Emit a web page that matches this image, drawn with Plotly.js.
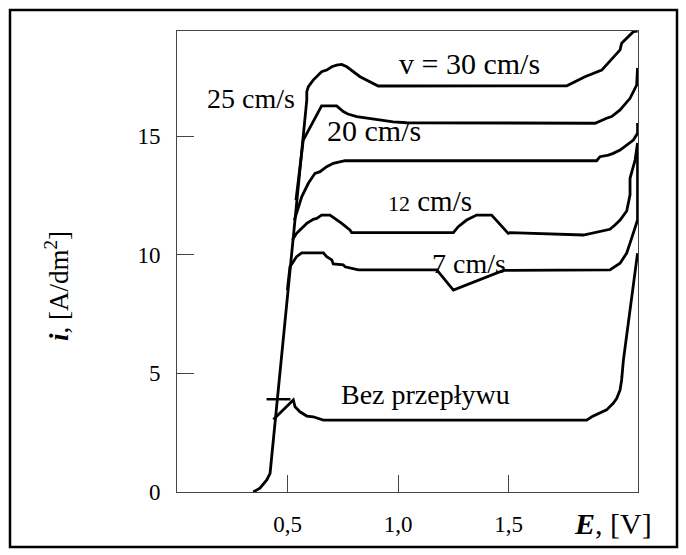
<!DOCTYPE html>
<html>
<head>
<meta charset="utf-8">
<script src="https://cdn.plot.ly/plotly-3.0.1.min.js"></script>
<style>html,body{margin:0;padding:0;background:#fff;}#chart{width:686px;height:555px;}</style>
</head>
<body>
<div id="chart"></div>
<script>
// ---- Data (E in V, i in A/dm2) ----
const v30_E = [0.345,0.375,0.406,0.421,0.587,0.587,0.594,0.616,0.654,0.677,0.700,0.722,0.745,0.768,0.828,0.910,1.763,1.845,1.921,1.928,2.004,2.011,2.049,2.064,2.083];
const v30_i = [0.00,0.16,0.51,0.79,16.52,16.87,17.08,17.36,17.71,17.78,17.92,17.99,18.02,17.92,17.50,17.11,17.12,17.50,17.78,17.85,18.63,18.91,19.26,19.40,19.42];

const v25_E = [0.538,0.571,0.654,0.722,0.752,0.773,0.813,0.888,0.978,1.039,1.891,1.943,1.966,2.004,2.049,2.079,2.083];
const v25_i = [12.30,14.83,16.27,16.27,16.03,15.93,15.82,15.71,15.60,15.56,15.54,15.75,15.82,16.10,16.59,17.15,17.87];

const v20_E = [0.531,0.564,0.594,0.624,0.647,0.677,0.707,0.752,0.760,1.898,1.913,1.951,1.973,2.004,2.034,2.064,2.083,2.083];
const v20_i = [11.46,12.44,13.01,13.43,13.50,13.71,13.85,13.92,13.96,13.96,14.13,14.20,14.27,14.41,14.62,14.83,15.12,15.55];

const v12_E = [0.522,0.541,0.556,0.587,0.616,0.632,0.654,0.692,0.745,0.782,0.790,1.250,1.272,1.310,1.355,1.423,1.498,1.506,1.838,1.913,1.958,1.981,2.004,2.034,2.049,2.049,2.072,2.083];
const v12_i = [10.62,10.90,11.04,11.32,11.49,11.53,11.67,11.67,11.32,11.04,10.93,10.93,11.18,11.46,11.67,11.67,10.90,10.93,10.83,10.97,11.07,11.25,11.46,11.84,12.52,13.22,13.99,14.71];

const v7_E = [0.499,0.511,0.526,0.541,0.564,0.662,0.677,0.700,0.707,0.752,0.760,0.790,0.820,1.175,1.250,1.476,1.958,2.004,2.034,2.049,2.064,2.083,2.083];
const v7_i = [8.51,9.49,9.70,9.92,10.08,10.08,9.92,9.78,9.61,9.57,9.49,9.43,9.36,9.36,8.51,9.34,9.36,9.64,10.07,10.49,10.91,11.46,14.41];

const v0_E = [0.436,0.519,0.526,0.534,0.556,0.587,0.616,0.662,1.853,1.876,1.913,1.943,1.973,1.989,2.004,2.011,2.019,2.083];
const v0_i = [3.06,3.81,3.88,3.59,3.38,3.20,3.17,3.03,3.03,3.17,3.32,3.46,3.74,3.95,4.30,4.72,5.56,10.06];

const mark_E = [0.459];
const mark_i = [3.91];

const xTickVals = [0.5, 1.0, 1.5];
const xTickText = ['0,5', '1,0', '1,5'];
const yTickVals = [0, 5, 10, 15];
const yTickText = ['0', '5', '10', '15'];

const labels = [
  {text: 'v = 30 cm/s', E: 1.325, i: 18.07, size: 30},
  {text: '25 cm/s', E: 0.335, i: 16.59, size: 28},
  {text: '20 cm/s', E: 0.889, i: 15.25, size: 30},
  {text: '<span style="font-size:22px">12</span> cm/s', E: 1.144, i: 12.26, size: 29},
  {text: '7 cm/s', E: 1.321, i: 9.64, size: 28},
  {text: 'Bez przepływu', E: 1.122, i: 4.13, size: 28}
];

// ---- Layout constants ----
const W = 686, H = 555;
const M = {l: 177, r: 48, t: 31, b: 63, pad: 0};
const PW = W - M.l - M.r, PH = H - M.t - M.b;
const px2x = p => (p - M.l) / PW;
const px2y = p => (H - M.b - p) / PH;
const FONT = 'Liberation Serif, Times New Roman, serif';
const LINE = {color: '#000', width: 2.8};

const series = [
  ['v = 30 cm/s', v30_E, v30_i],
  ['25 cm/s', v25_E, v25_i],
  ['20 cm/s', v20_E, v20_i],
  ['12 cm/s', v12_E, v12_i],
  ['7 cm/s', v7_E, v7_i],
  ['Bez przepływu', v0_E, v0_i]
];
const traces = series.map(([name, x, y]) => ({
  type: 'scatter', mode: 'lines', name, x, y, line: LINE, hoverinfo: 'skip'
}));
traces.push({type: 'scatter', mode: 'markers', name: 'mark', x: mark_E, y: mark_i,
  marker: {symbol: 'line-ew', size: 17, line: {color: '#000', width: 2.5}}, hoverinfo: 'skip'});

const annotations = labels.map(l => ({
  x: l.E, y: l.i, xref: 'x', yref: 'y', text: l.text, showarrow: false,
  font: {family: FONT, size: l.size, color: '#000'}, xanchor: 'center', yanchor: 'middle'
}));
annotations.push({
  x: px2x(613), y: px2y(523), xref: 'paper', yref: 'paper', showarrow: false,
  text: '<b><i>E</i></b>, [V]', font: {family: FONT, size: 30, color: '#000'},
  xanchor: 'center', yanchor: 'middle'
});
annotations.push({
  x: px2x(57), y: px2y(286), xref: 'paper', yref: 'paper', showarrow: false, textangle: -90,
  text: '<b><i>i</i></b>, [A/dm<sup>2</sup>]', font: {family: FONT, size: 27, color: '#000'},
  xanchor: 'center', yanchor: 'middle'
});

const layout = {
  width: W, height: H, margin: M, showlegend: false,
  paper_bgcolor: '#fff', plot_bgcolor: '#fff',
  font: {family: FONT, color: '#000'},
  xaxis: {
    range: [0, PW / 221.1], showgrid: false, zeroline: false,
    showline: true, linecolor: '#444', linewidth: 1, mirror: true,
    ticks: 'inside', ticklen: 17, tickcolor: '#444', tickwidth: 1,
    tickvals: xTickVals, ticktext: xTickText, ticklabelstandoff: 11,
    tickfont: {family: FONT, size: 23, color: '#000'}
  },
  yaxis: {
    range: [0, PH / 23.73], showgrid: false, zeroline: false,
    showline: true, linecolor: '#444', linewidth: 1, mirror: true,
    ticks: 'inside', ticklen: 17, tickcolor: '#444', tickwidth: 1,
    tickvals: yTickVals, ticktext: yTickText, ticklabelstandoff: 11,
    tickfont: {family: FONT, size: 23, color: '#000'}
  },
  annotations,
  shapes: [{
    type: 'rect', xref: 'paper', yref: 'paper',
    x0: px2x(10), x1: px2x(677), y0: px2y(547), y1: px2y(10),
    line: {color: '#000', width: 2.5}, fillcolor: 'rgba(0,0,0,0)', layer: 'above'
  }]
};

Plotly.newPlot('chart', traces, layout, {staticPlot: true, displayModeBar: false});
</script>
</body>
</html>
